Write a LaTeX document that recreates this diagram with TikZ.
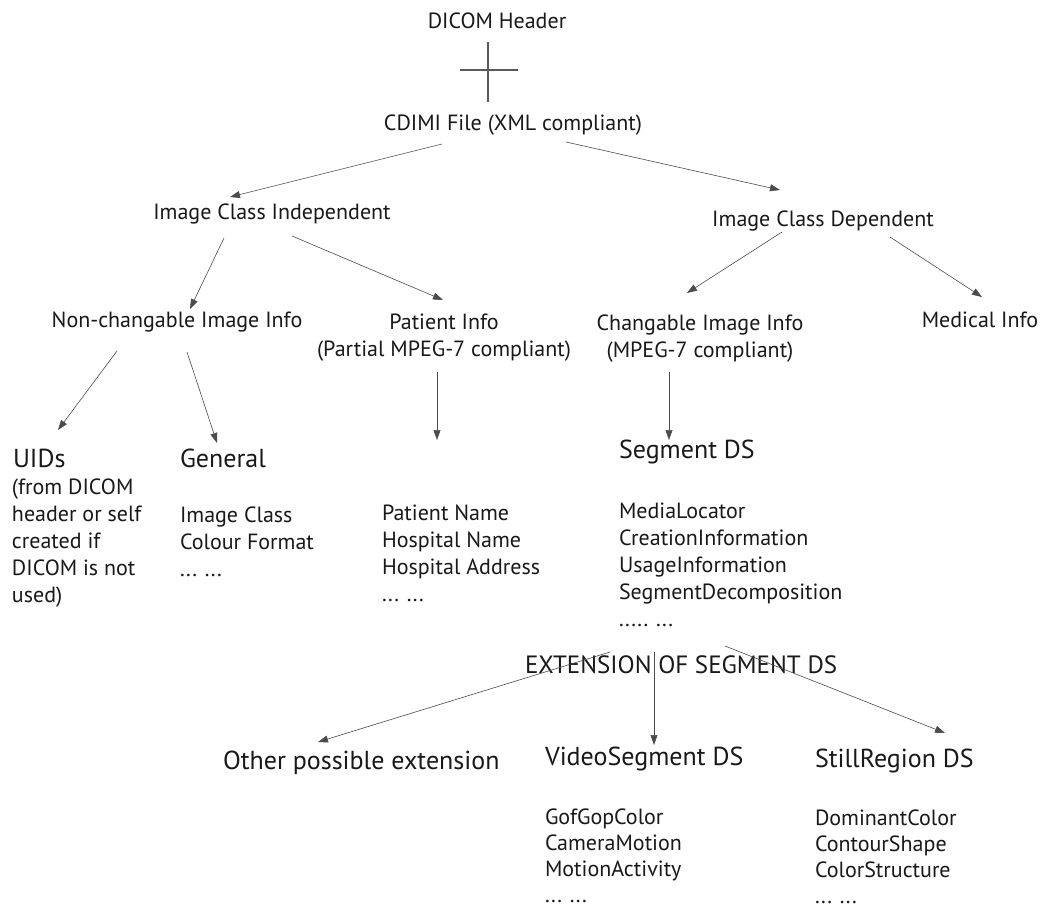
\documentclass[tikz,border=0pt]{standalone}
\usepackage{fontspec}
\setmainfont{PT Sans}
\usetikzlibrary{arrows.meta,calc}
\newcommand{\nsz}{\fontsize{22}{27}\selectfont}
\newcommand{\tsz}{\fontsize{22}{26.3}\selectfont}
\newcommand{\lsz}{\fontsize{26}{33}\selectfont}
\newcommand{\xsz}{\fontsize{25}{33}\selectfont}
\newcommand{\itemlist}[1]{\vtop{\halign{##\hfil\cr#1\crcr}}}
\newcommand{\centerlist}[1]{\vtop{\halign{\hfil##\hfil\cr#1\crcr}}}
\begin{document}
\begin{tikzpicture}[x=1pt,y=-1pt,
  txt/.style={inner sep=0pt, outer sep=0pt, font=\nsz, text=black!90},
  big/.style={txt, font=\lsz},
  arr/.style={draw=black!70, line width=0.6pt, -{Triangle[length=10pt,width=7pt]}},
  crossline/.style={draw=black!65, line width=1.3pt}]
\useasboundingbox[fill=white] (0,0) rectangle (1044,912);

% top
\node[txt, anchor=base] (dicom) at (497,29) {DICOM Header};
\coordinate (plus) at (488,70);
\draw[crossline] ($(plus)+(0,-28)$) -- ($(plus)+(0,32)$);
\draw[crossline] ($(plus)+(-28,0)$) -- ($(plus)+(30,0)$);
\node[txt, anchor=base] (cdimi) at (513,131) {CDIMI File (XML compliant)};

% level 2
\node[txt, anchor=base] (ici) at (272,220) {Image Class Independent};
\node[txt, anchor=base] (icd) at (823,226) {Image Class Dependent};

% level 3
\node[txt, anchor=base] (nci) at (177,327) {Non-changable Image Info};
\node[txt, anchor=base] (pi) at (444,329) {\centerlist{Patient Info\cr(Partial MPEG-7 compliant)}};
\node[txt, anchor=base] (cii) at (700,330) {\centerlist{Changable Image Info\cr(MPEG-7 compliant)}};
\node[txt, anchor=base] (med) at (980,327) {Medical Info};

% level 4
\node[big, anchor=base west] (uids) at (13,467) {UIDs};
\node[txt, anchor=base west] (uidsl) at (12,494) {\itemlist{(from DICOM\cr header or self\cr created if\cr DICOM is not\cr used)}};
\node[big, anchor=base west] (gen) at (180,467) {General};
\node[txt, anchor=base west] (genl) at (180,522) {\itemlist{Image Class\cr Colour Format\cr ... ...}};
\node[txt, anchor=base west] (patl) at (382,520) {\itemlist{Patient Name\cr Hospital Name\cr Hospital Address\cr ... ...}};
\node[big, anchor=base west] (seg) at (619,458) {Segment DS};
\node[txt, anchor=base west] (segl) at (619,518) {\itemlist{MediaLocator\cr CreationInformation\cr UsageInformation\cr SegmentDecomposition\cr ..... ...}};

% extension
\node[big, font=\xsz, anchor=base west] (ext) at (525,673) {EXTENSION OF SEGMENT DS};
\node[big, anchor=base west] (ope) at (223,769) {Other possible extension};
\node[big, anchor=base west] (vsd) at (545,765) {VideoSegment DS};
\node[big, anchor=base west] (srd) at (815,767) {StillRegion DS};
\node[txt, font=\tsz, anchor=base west] (vsl) at (545,824) {\itemlist{GofGopColor\cr CameraMotion\cr MotionActivity\cr ... ...}};
\node[txt, font=\tsz, anchor=base west] (srl) at (815,825) {\itemlist{DominantColor\cr ContourShape\cr ColorStructure\cr ... ...}};

% connectors
\draw[arr] ($(cdimi.base)+(-71,13)$) -- ($(ici.base)+(-42,-23)$);
\draw[arr] ($(cdimi.base)+(53,11)$) -- ($(icd.base)+(-43,-36)$);
\draw[arr] ($(ici.base)+(-48,18)$) -- ($(nci.base)+(13,-18)$);
\draw[arr] ($(ici.base)+(20,16)$) -- ($(pi.base)+(-1,-29)$);
\draw[arr] ($(icd.base)+(-41,6)$) -- ($(cii.base)+(-13,-37)$);
\draw[arr] ($(icd.base)+(67,11)$) -- ($(med.base)+(2,-30)$);
\draw[arr] ($(nci.base)+(-60,24)$) -- ($(uids.base west)+(45,-37)$);
\draw[arr] ($(nci.base)+(10,25)$) -- ($(gen.base west)+(37,-24)$);
\draw[arr] ($(pi.base)+(-7,43)$) -- ($(patl.base west)+(55,-80)$);
\draw[arr] ($(cii.base)+(-31,42)$) -- ($(seg.base west)+(50,-18)$);
\draw[arr] ($(ext.base west)+(85,-21)$) -- ($(ope.base west)+(95,-27)$);
\draw[arr] ($(ext.base west)+(129,-21)$) -- ($(vsd.base west)+(109,-20)$);
\draw[arr] ($(ext.base west)+(200,-27)$) -- ($(srd.base west)+(130,-34)$);
\end{tikzpicture}
\end{document}
